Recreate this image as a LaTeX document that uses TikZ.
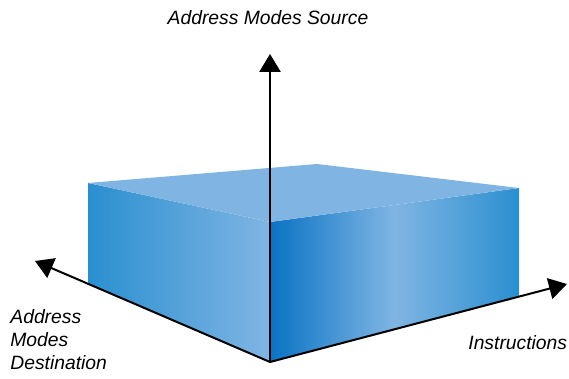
\documentclass[tikz,border=0pt]{standalone}
\usepackage{fontspec}
\setmainfont{Liberation Sans}
\usetikzlibrary{arrows.meta}

\definecolor{boxdark}{HTML}{0A73C4}
\definecolor{boxmid}{HTML}{2A8FD0}
\definecolor{boxlight}{HTML}{80B5E3}

\begin{document}
\begin{tikzpicture}[x=0.5pt,y=-0.5pt]
\tikzstyle{every node}+=[inner sep=0pt, font=\fontsize{9.65}{11.5}\selectfont\itshape]
\tikzstyle{axis}=[black, line width=1pt, -{Triangle[length=9pt,width=10.6pt]}]
\useasboundingbox (0,0) rectangle (569,379);
% corners of the box
\coordinate (O) at (270,362);
\coordinate (ft) at (270,222);
\coordinate (lt) at (88,183);
\coordinate (lb) at (88,284);
\coordinate (rt) at (519,188);
\coordinate (rb) at (519,296);
\coordinate (bt) at (317,164);
% axis ends
\coordinate (src) at (270,54);
\coordinate (dst) at (35,261);
\coordinate (ins) at (567,284);
% faces
\shade [left color=boxmid, right color=boxlight] (lt) -- (ft) -- (O) -- (lb) -- cycle;
\shade [left color=boxdark, right color=boxmid, middle color=boxlight] (ft) -- (rt) -- (rb) -- (O) -- cycle;
\fill [boxlight] (lt) -- (bt) -- (rt) -- (ft) -- cycle;
% axes
\draw [axis] (O) -- (src);
\draw [axis] (O) -- (dst);
\draw [axis] (O) -- (ins);
% labels
\node (srclabel) [anchor=base] at (268,25) {Address Modes Source};
\node (inslabel) [anchor=base west] at (468,350) {Instructions};
\node (dstlabel) [anchor=north west, align=left] at (10,309) {Address\\Modes\\Destination};
\end{tikzpicture}
\end{document}
